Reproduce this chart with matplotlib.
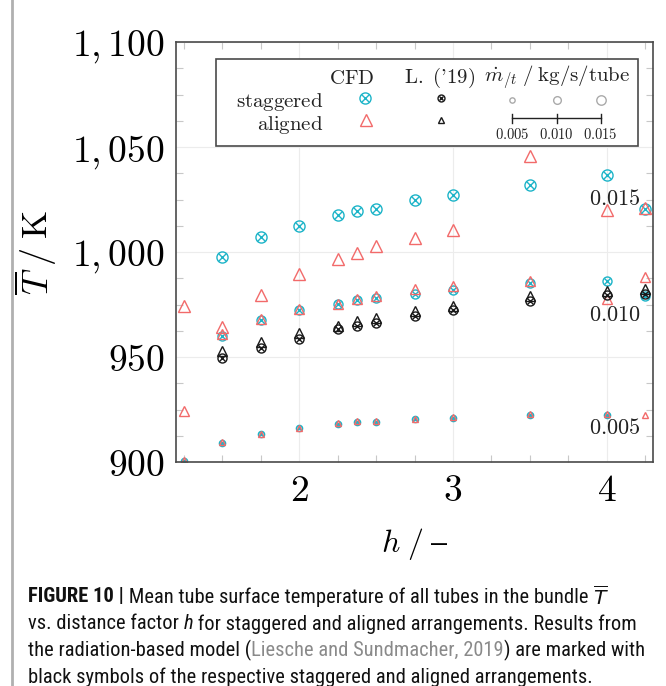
import numpy as np
import matplotlib
matplotlib.use("Agg")
import matplotlib.pyplot as plt
from matplotlib.ticker import MultipleLocator, FixedLocator, FuncFormatter
from matplotlib.lines import Line2D

plt.rcParams["mathtext.fontset"] = "cm"
plt.rcParams["font.family"] = ["DejaVu Serif"]

# distance factor h
h = np.array([1.25, 1.5, 1.75, 2.0, 2.25, 2.375, 2.5, 2.75, 3.0, 3.5, 4.0, 4.25])
nan = np.nan

# CFD, staggered arrangement, per mass flow (kg/s/tube)
cfd_stag_005 = [900.8, 909.0, 913.3, 916.2, 918.2, 919.2, 919.3, 920.4, 921.2, 922.5, 922.5, nan]
cfd_stag_010 = [nan, 960.2, 967.5, 972.4, 975.2, 977.4, 978.2, 980.3, 982.2, 985.4, 986.2, 979.0]
cfd_stag_015 = [nan, 997.8, 1007.1, 1012.6, 1017.8, 1019.7, 1020.7, 1025.0, 1027.4, 1032.0, 1036.8, 1020.7]

# CFD, aligned arrangement
cfd_alig_005 = [901.0, 909.5, 913.6, 916.5, 918.5, 919.5, 919.7, 920.8, 921.6, 922.8, 922.8, 922.4]
cfd_alig_010 = [924.5, 960.9, 968.0, 973.0, 975.5, 977.8, 979.0, 982.5, 983.8, 986.5, 977.8, 988.4]
cfd_alig_015 = [974.3, 964.4, 979.8, 989.8, 996.8, 999.6, 1002.8, 1006.7, 1010.4, 1045.8, 1020.1, 1021.0]

# Liesche and Sundmacher 2019 radiation-based model (0.010 only)
lit_stag_010 = [nan, 949.7, 954.2, 958.9, 963.2, 964.8, 966.3, 969.8, 972.7, 976.6, 979.6, 980.3]
lit_alig_010 = [nan, 952.9, 957.3, 961.6, 965.0, 967.1, 968.7, 971.9, 974.3, 979.0, 981.4, 982.5]

flows = ["0.005", "0.010", "0.015"]
msize = {"0.005": 4.5, "0.010": 6.5, "0.015": 8.0}

cyan = "#1db4c8"
red = "#f26a6a"
black = "#1a1a1a"


def otimes(ax, x, y, color, ms, **kw):
    ax.plot(x, y, ls="none", marker="o", ms=ms, mfc="none", mec=color, mew=1.0, **kw)
    ax.plot(x, y, ls="none", marker="x", ms=ms * 0.68, mec=color, mew=1.0, **kw)


def tri(ax, x, y, color, ms, **kw):
    ax.plot(x, y, ls="none", marker="^", ms=ms, mfc="none", mec=color, mew=1.0, **kw)


fig = plt.figure(figsize=(6.66, 6.86), dpi=100)
ax = fig.add_axes([0.2643, 0.3261, 0.7162, 0.6127])

stag = {"0.005": cfd_stag_005, "0.010": cfd_stag_010, "0.015": cfd_stag_015}
alig = {"0.005": cfd_alig_005, "0.010": cfd_alig_010, "0.015": cfd_alig_015}
for f in flows:
    otimes(ax, h, stag[f], cyan, msize[f])
    tri(ax, h, alig[f], red, msize[f])
otimes(ax, h, lit_stag_010, black, msize["0.010"])
tri(ax, h, lit_alig_010, black, msize["0.010"])

ax.set_xlim(1.2, 4.3)
ax.set_ylim(900, 1100)
ax.xaxis.set_major_locator(FixedLocator([2, 3, 4]))
ax.xaxis.set_minor_locator(MultipleLocator(0.25))
ax.yaxis.set_major_locator(MultipleLocator(50))
ax.yaxis.set_minor_locator(MultipleLocator(12.5))
ax.xaxis.set_major_formatter(FuncFormatter(lambda v, p: r"$%d$" % v))
ax.yaxis.set_major_formatter(
    FuncFormatter(lambda v, p: (r"$%d,%03d$" % (v // 1000, v % 1000)) if v >= 1000 else r"$%d$" % v))
ax.tick_params(which="both", direction="in", top=True, right=True, color="#c8c8c8", width=0.8)
ax.tick_params(which="major", length=0, labelsize=27, pad=8)
ax.tick_params(which="minor", length=5)
ax.grid(True, which="major", color="#ececec", lw=0.8)
ax.set_axisbelow(True)
for s in ax.spines.values():
    s.set_color("#4a4a4a")
    s.set_linewidth(1.2)

ax.set_ylabel(r"$\overline{T}\;/\;\mathrm{K}$", fontsize=26, labelpad=10)
ax.set_xlabel(r"$h\;/\;\mathrm{–}$", fontsize=23, labelpad=12)

# mass flow labels
for f, yv in zip(flows, [916.1, 969.9, 1025.3]):
    ax.text(4.05, yv, "$%s$" % f, fontsize=16, ha="center", va="center", color="#222222")

# legend box
tr = ax.transAxes
ax.add_patch(plt.Rectangle((0.0839, 0.7526), 0.8847, 0.207, transform=tr, fill=True,
                           fc="white", ec="#4a4a4a", lw=1.2, zorder=5))
lt = dict(transform=tr, fontsize=15, color="#222222", zorder=6, va="center")
ax.text(0.369, 0.914, r"$\mathrm{CFD}$", ha="center", **lt)
ax.text(0.553, 0.914, r"$\mathrm{L.\ (\text{'}19)}$", ha="center", **lt)
ax.text(0.799, 0.914, r"$\dot{m}_{/t}\;/\;\mathrm{kg/s/tube}$", ha="center", **lt)
ax.text(0.309, 0.858, r"$\mathrm{staggered}$", ha="right", **lt)
ax.text(0.309, 0.8025, r"$\mathrm{aligned}$", ha="right", **lt)
otimes(ax, [0.396], [0.8675], cyan, 8.0, transform=tr, zorder=6, clip_on=False)
tri(ax, [0.398], [0.8144], red, 8.0, transform=tr, zorder=6, clip_on=False)
otimes(ax, [0.5556], [0.8675], black, 5.0, transform=tr, zorder=6, clip_on=False)
tri(ax, [0.5556], [0.8144], black, 5.0, transform=tr, zorder=6, clip_on=False)
xs = [0.705, 0.798, 0.890]
for xi, f in zip(xs, flows):
    ax.plot([xi], [0.862], ls="none", marker="o", ms=msize[f] * 0.85, mfc="none",
            mec="#aaaaaa", mew=1.0, transform=tr, zorder=6)
    ax.plot([xi, xi], [0.808, 0.829], color="#222222", lw=1.0, transform=tr, zorder=6)
    ax.text(xi, 0.7787, "$%s$" % f, ha="center", transform=tr, fontsize=10.5,
            color="#222222", zorder=6, va="center")
ax.plot([xs[0], xs[-1]], [0.8185, 0.8185], color="#222222", lw=1.0, transform=tr, zorder=6)

# page border line on the left
fig.add_artist(Line2D([0.018, 0.018], [0, 1], color="#b0b0b0", lw=2, transform=fig.transFigure))

# caption with mixed styles
renderer = fig.canvas.get_renderer()
cap_font = ["Roboto Condensed", "Liberation Sans Narrow", "Arial Narrow", "Liberation Sans", "DejaVu Sans"]
lines = [
    [("FIGURE 10 |", dict(weight="bold")),
     (" Mean tube surface temperature of all tubes in the bundle ", {}),
     (r"$\overline{T}$", dict(math_fontfamily="dejavusans", style="italic"))],
    [("vs. distance factor ", {}), ("h", dict(style="italic")),
     (" for staggered and aligned arrangements. Results from", {})],
    [("the radiation-based model (", {}), ("Liesche and Sundmacher, 2019", dict(color="#8a8a8a")),
     (") are marked with", {})],
    [("black symbols of the respective staggered and aligned arrangements.", {})],
]

# pick a caption size so that the second line spans about 612 px
probe = fig.text(0, 0, "".join(t for t, _ in lines[1]), fontsize=14, family=cap_font)
w = probe.get_window_extent(renderer).width
probe.remove()
cap_size = min(15.0, 14 * 610 / w)

y0 = 1 - 597 / 686
dy = 26.8 / 686
for i, line in enumerate(lines):
    x = 28 / 666
    for txt, kw in line:
        kw = dict(kw)
        color = kw.pop("color", "#111111")
        t = fig.text(x, y0 - i * dy, txt, fontsize=cap_size, family=cap_font, color=color,
                     va="center", ha="left", **kw)
        bb = t.get_window_extent(renderer)
        x += bb.width / fig.bbox.width

fig.savefig("out.png", dpi=100)
